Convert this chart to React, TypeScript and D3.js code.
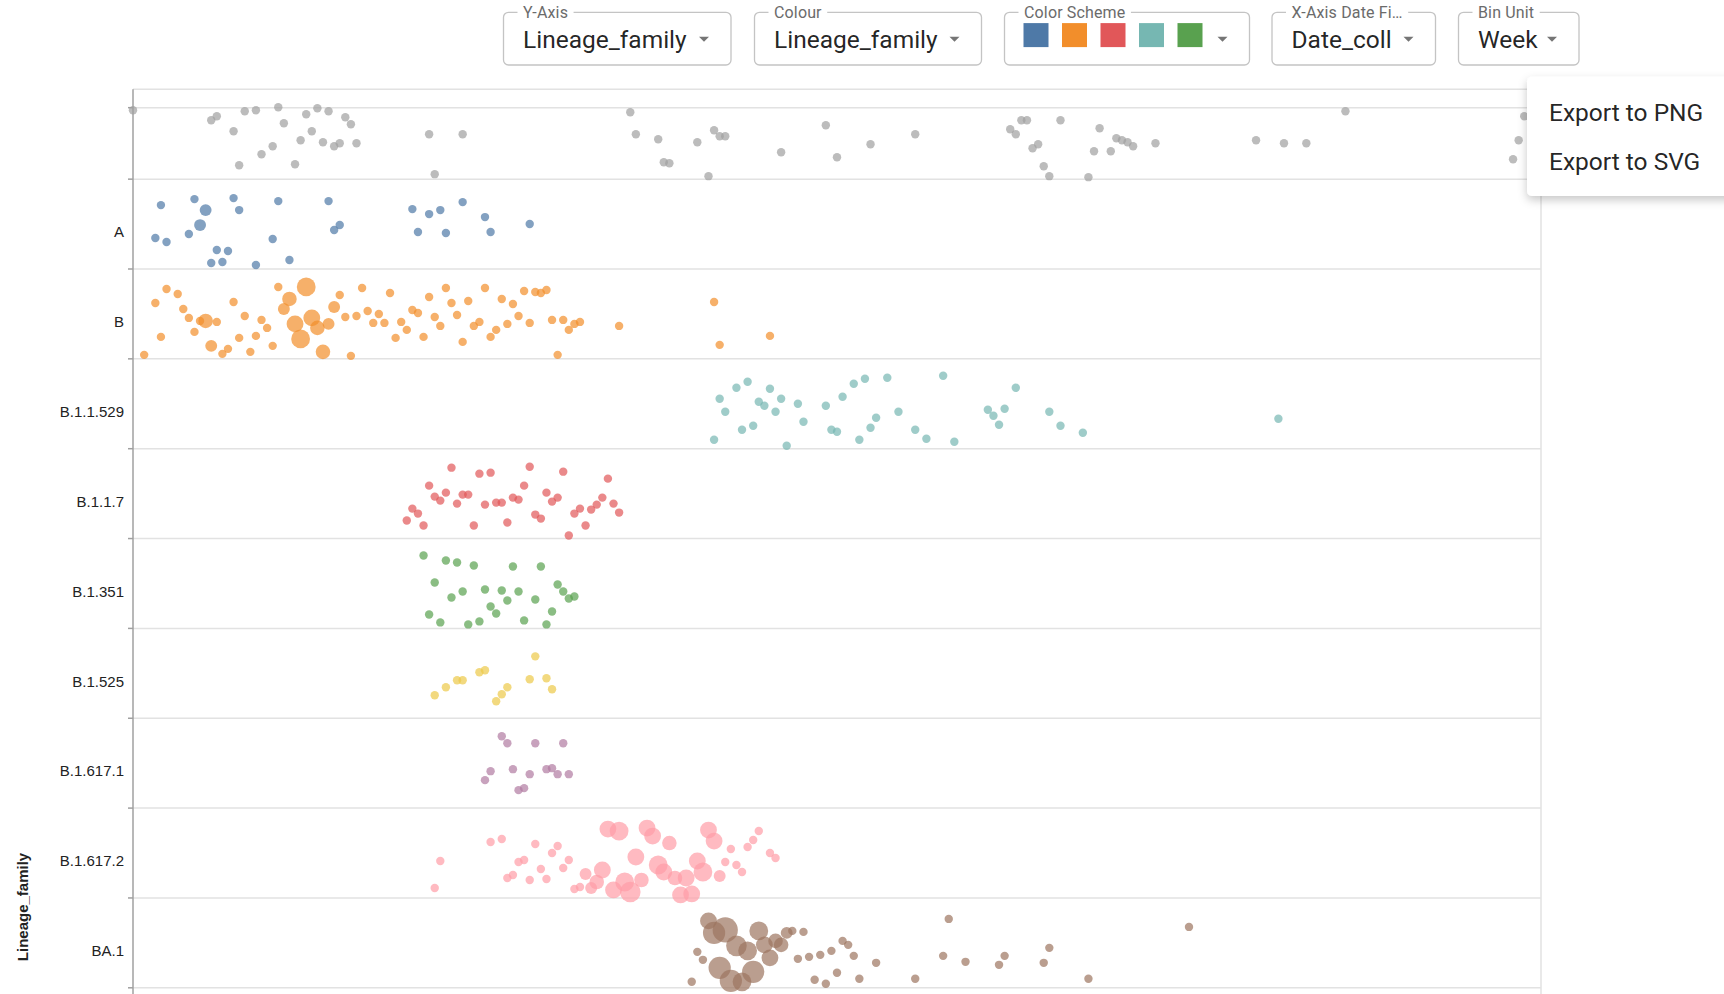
import { useEffect, useRef } from "react";
import * as d3 from "d3";

// one dot per lineage per collection week: [week index, jitter inside the lane (0-90), sequences]
type WeekPoint = [number, number, number?];

const lineages = ["", "A", "B", "B.1.1.529", "B.1.1.7", "B.1.351", "B.1.525", "B.1.617.1", "B.1.617.2", "BA.1"];
const lineageColors = ["#a0a0a0", "#4e79a7", "#f28e2b", "#76b7b2", "#e15759", "#59a14f", "#edc948", "#b07aa1", "#ff9da7", "#9c755f"];

const unassigned: WeekPoint[] = [
  [0, 21], [14, 31], [15, 27], [18, 42], [19, 76], [20, 22], [22, 21], [23, 65], [25, 57], [26, 18], [27, 34],
  [29, 75], [30, 51], [31, 25], [32, 42], [33, 19], [34, 53], [35, 22], [36, 57], [37, 54], [38, 28], [39, 35],
  [40, 54], [53, 45], [54, 85], [59, 45], [89, 23], [90, 45], [94, 50], [95, 73], [96, 74], [101, 53], [103, 87],
  [104, 41], [105, 47], [106, 47], [116, 63], [124, 36], [126, 68], [132, 55], [140, 45], [157, 40], [158, 45],
  [159, 31], [160, 31], [161, 59], [162, 55], [163, 77], [164, 87], [166, 31], [171, 88], [172, 62], [173, 39],
  [175, 62], [176, 49], [177, 51], [178, 53], [179, 57], [183, 54], [201, 51], [206, 54], [210, 54], [217, 22],
  [247, 70], [248, 51], [249, 27],
];

const lineageA: WeekPoint[] = [
  [4, 59], [5, 26], [6, 63], [10, 55], [11, 20], [12, 46, 2], [13, 31, 2], [14, 84], [15, 71], [16, 83], [17, 72],
  [18, 19], [19, 31], [22, 86], [25, 60], [26, 22], [28, 81], [35, 22], [36, 51], [37, 46], [50, 30], [51, 53],
  [53, 35], [55, 31], [56, 54], [59, 23], [63, 38], [64, 53], [71, 45],
];

const lineageB: WeekPoint[] = [
  [2, 86], [4, 34], [5, 68], [6, 20], [8, 25], [9, 40], [10, 49], [11, 63], [12, 52], [13, 52, 3], [14, 77, 2],
  [15, 53], [16, 85], [17, 80], [18, 33], [19, 69], [20, 47], [21, 83], [22, 67], [23, 51], [24, 59], [25, 77],
  [26, 18], [27, 40, 2], [28, 30, 3], [29, 55, 4], [30, 70, 5], [31, 18, 5], [32, 49, 4], [33, 59, 3], [34, 83, 3],
  [35, 55, 2], [36, 38, 2], [37, 26], [38, 48], [39, 87], [40, 47], [41, 19], [42, 42], [43, 54], [44, 45],
  [45, 54], [46, 24], [47, 69], [48, 53], [49, 61], [50, 41], [51, 44], [52, 68], [53, 28], [54, 48], [55, 57],
  [56, 19], [57, 34], [58, 46], [59, 73], [60, 32], [61, 57], [62, 53], [63, 19], [64, 68], [65, 61], [66, 30],
  [67, 55], [68, 35], [69, 47], [70, 22], [71, 54], [72, 23], [73, 24], [74, 21], [75, 51], [76, 86], [77, 51],
  [78, 61], [79, 55], [80, 53], [87, 57], [104, 33], [105, 76], [114, 67],
];

const lineageB11529: WeekPoint[] = [
  [104, 81], [105, 40], [106, 53], [108, 29], [109, 71], [110, 23], [111, 67], [112, 43], [113, 47], [114, 30],
  [115, 53], [116, 40], [117, 87], [119, 45], [120, 63], [124, 47], [125, 71], [126, 73], [127, 38], [129, 25],
  [130, 81], [131, 20], [132, 69], [133, 59], [135, 19], [137, 53], [140, 71], [142, 80], [145, 17], [147, 83],
  [153, 51], [154, 57], [155, 66], [156, 50], [158, 29], [164, 53], [166, 67], [170, 74], [205, 60],
];

const lineageB117: WeekPoint[] = [
  [49, 72], [50, 60], [51, 65], [52, 77], [53, 37], [54, 48], [55, 52], [56, 44], [57, 19], [58, 55], [59, 46],
  [60, 46], [61, 77], [62, 25], [63, 56], [64, 24], [65, 54], [66, 54], [67, 74], [68, 49], [69, 51], [70, 37],
  [71, 18], [72, 66], [73, 70], [74, 44], [75, 53], [76, 49], [77, 23], [78, 87], [79, 65], [80, 60], [81, 77],
  [82, 61], [83, 56], [84, 49], [85, 30], [86, 55], [87, 64],
];

const lineageB1351: WeekPoint[] = [
  [52, 17], [53, 76], [54, 44], [55, 84], [56, 22], [57, 59], [58, 24], [59, 53], [60, 86], [61, 27], [62, 83],
  [63, 51], [64, 68], [65, 75], [66, 52], [67, 62], [68, 28], [69, 53], [70, 82], [72, 61], [73, 28], [74, 86],
  [75, 73], [76, 46], [77, 53], [78, 60], [79, 58],
];

const lineageB1525: WeekPoint[] = [
  [54, 67], [56, 59], [58, 52], [59, 52], [62, 44], [63, 42], [65, 73], [66, 66], [67, 59], [71, 51], [72, 28],
  [74, 50], [75, 61],
];

const lineageB16171: WeekPoint[] = [
  [63, 62], [64, 53], [66, 18], [67, 25], [68, 51], [69, 72], [70, 70], [71, 56], [72, 25], [74, 51], [75, 50],
  [76, 56], [77, 25], [78, 56],
];

const lineageB16172: WeekPoint[] = [
  [54, 80], [55, 53], [64, 34], [66, 31], [67, 70], [68, 67], [69, 54], [70, 52], [71, 72], [72, 36], [73, 61],
  [74, 71], [75, 45], [76, 38], [77, 60], [78, 52], [79, 81], [80, 79], [81, 66, 2], [82, 80, 2], [83, 74, 3],
  [84, 62, 4], [85, 21, 4], [86, 82, 4], [87, 23, 5], [88, 74, 5], [89, 84, 6], [90, 49, 4], [91, 72, 3],
  [92, 20, 4], [93, 28, 4], [94, 57, 5], [95, 64, 4], [96, 35, 3], [97, 70, 3], [98, 87, 4], [99, 70, 4],
  [100, 86, 4], [101, 53, 4], [102, 64, 5], [103, 22, 4], [104, 33, 4], [105, 68, 2], [106, 54], [107, 41],
  [108, 57], [109, 64], [110, 39], [111, 32], [112, 23], [114, 45], [115, 50],
];

const lineageBA1: WeekPoint[] = [
  [100, 84], [101, 54], [102, 62], [103, 23, 4], [104, 35, 7], [105, 70, 7], [106, 32, 9], [107, 83, 7],
  [108, 48, 6], [109, 84, 5], [110, 53, 5], [111, 74, 7], [112, 33, 5], [113, 47, 4], [114, 60, 4], [115, 43, 3],
  [116, 47, 3], [117, 35, 2], [118, 33], [119, 61], [120, 34], [121, 59], [122, 82], [123, 57], [124, 86],
  [125, 53], [126, 75], [127, 43], [128, 47], [129, 58], [130, 81], [133, 65], [140, 81], [145, 58], [146, 21],
  [149, 64], [155, 67], [156, 58], [163, 65], [164, 50], [171, 81], [189, 29],
];

const lineagePoints: WeekPoint[][] = [
  unassigned, lineageA, lineageB, lineageB11529, lineageB117, lineageB1351, lineageB1525, lineageB16171,
  lineageB16172, lineageBA1,
];

const firstWeek = new Date(2019, 11, 29);
const weekSpan = 252;

const controlLabels = ["Y-Axis", "Colour", "Color Scheme", "X-Axis Date Fi…", "Bin Unit"];
const controlValues = ["Lineage_family", "Lineage_family", "", "Date_coll", "Week"];
const schemeSwatches = ["#4e79a7", "#f28e2b", "#e15759", "#76b7b2", "#59a14f"];
const exportItems = ["Export to PNG", "Export to SVG"];

export default function App() {
  const ref = useRef<SVGSVGElement | null>(null);

  useEffect(() => {
    if (!ref.current) return;

    const width = 1724;
    const height = 994;
    const plot = { left: 133, right: 1541, top: 89.3, lane: 89.85 };

    const svg = d3.select(ref.current).attr("width", width).attr("height", height);
    svg.selectAll("*").remove();

    const defs = svg.append("defs");
    const shadow = defs.append("filter").attr("id", "menu-shadow")
      .attr("x", "-20%").attr("y", "-30%").attr("width", "140%").attr("height", "170%");
    shadow.append("feDropShadow").attr("dx", 0).attr("dy", 4).attr("stdDeviation", 5)
      .attr("flood-color", "#000").attr("flood-opacity", 0.22);

    svg.append("rect").attr("width", width).attr("height", height).attr("fill", "#fff");

    /* ---------------- SCALES ---------------- */

    const x = d3.scaleTime()
      .domain([firstWeek, d3.timeWeek.offset(firstWeek, weekSpan)])
      .range([plot.left, plot.right]);

    const y = d3.scaleBand()
      .domain(lineages)
      .range([plot.top, plot.top + lineages.length * plot.lane]);

    const jitter = d3.scaleLinear().domain([0, 90]).range([0, y.step()]);
    const radius = d3.scaleSqrt().domain([0, 10]).range([0, 13.3]);

    /* ---------------- GRID + AXIS ---------------- */

    const bounds = lineages.slice(1).map(c => y(c)!).concat(y.range()[1]);
    const tickYs = [y(lineages[0])! + jitter(18.4), ...bounds];

    const grid = svg.append("g");
    grid.append("line")
      .attr("x1", plot.left).attr("x2", plot.right)
      .attr("y1", plot.top).attr("y2", plot.top)
      .attr("stroke", "#e2e2e2").attr("stroke-width", 1.5);
    grid.selectAll(".grid")
      .data(tickYs)
      .enter()
      .append("line")
      .attr("x1", plot.left).attr("x2", plot.right)
      .attr("y1", d => d).attr("y2", d => d)
      .attr("stroke", "#e2e2e2").attr("stroke-width", 1.5);
    grid.append("line")
      .attr("x1", plot.right).attr("x2", plot.right)
      .attr("y1", plot.top).attr("y2", height)
      .attr("stroke", "#e2e2e2").attr("stroke-width", 1.5);

    const axis = svg.append("g");
    axis.append("line")
      .attr("x1", plot.left).attr("x2", plot.left)
      .attr("y1", plot.top).attr("y2", height)
      .attr("stroke", "#a0a0a0").attr("stroke-width", 1.5);
    axis.selectAll(".tick")
      .data(tickYs)
      .enter()
      .append("line")
      .attr("x1", plot.left - 5).attr("x2", plot.left)
      .attr("y1", d => d).attr("y2", d => d)
      .attr("stroke", "#a0a0a0").attr("stroke-width", 1.5);
    axis.selectAll(".label")
      .data(lineages.filter(c => c !== ""))
      .enter()
      .append("text")
      .attr("x", plot.left - 9)
      .attr("y", c => y(c)! + jitter(53))
      .attr("dy", "0.35em")
      .attr("text-anchor", "end")
      .attr("font-family", "'Liberation Sans', Arial, sans-serif")
      .attr("font-size", 15)
      .attr("fill", "#222")
      .text(c => c);

    svg.append("text")
      .attr("transform", "translate(28,907) rotate(-90)")
      .attr("text-anchor", "middle")
      .attr("font-family", "'Liberation Sans', Arial, sans-serif")
      .attr("font-weight", "bold")
      .attr("font-size", 15)
      .attr("fill", "#222")
      .text("Lineage_family");

    /* ---------------- DOTS ---------------- */

    const dots = svg.append("g");
    lineages.forEach((c, i) => {
      dots.append("g")
        .selectAll("circle")
        .data(lineagePoints[i])
        .enter()
        .append("circle")
        .attr("cx", d => x(d3.timeWeek.offset(firstWeek, d[0])))
        .attr("cy", d => y(c)! + jitter(d[1]))
        .attr("r", d => radius(d[2] ?? 1))
        .attr("fill", lineageColors[i])
        .attr("fill-opacity", 0.7);
    });

    /* ---------------- CONTROLS ---------------- */

    const boxLeft = [503.5, 754.5, 1004.5, 1272, 1458.5];
    const boxWidth = [227.5, 227, 245, 163.5, 120.5];

    controlLabels.forEach((label, i) => {
      const g = svg.append("g").attr("transform", `translate(${boxLeft[i]},12.3)`);
      g.append("rect")
        .attr("width", boxWidth[i]).attr("height", 52.7).attr("rx", 5)
        .attr("fill", "#fff").attr("stroke", "#c4c4c4").attr("stroke-width", 1.3);
      const notch = g.append("rect").attr("y", -2).attr("height", 4).attr("fill", "#fff");
      const t = g.append("text")
        .attr("x", 19.5).attr("y", 5.8)
        .attr("font-family", "Roboto, sans-serif").attr("font-size", 16)
        .attr("letter-spacing", 0.15)
        .attr("fill", "#6b6b6b")
        .text(label);
      const len = (t.node() as SVGTextElement).getComputedTextLength();
      notch.attr("x", 14).attr("width", len + 11);

      if (controlValues[i]) {
        g.append("text")
          .attr("x", 19.5).attr("y", 35.8)
          .attr("font-family", "Roboto, sans-serif").attr("font-size", 24.5)
          .attr("fill", "rgba(0,0,0,0.87)")
          .text(controlValues[i]);
      } else {
        g.selectAll(".swatch")
          .data(schemeSwatches)
          .enter()
          .append("rect")
          .attr("x", (_, k) => 19 + k * 38.5).attr("y", 10.8)
          .attr("width", 25).attr("height", 24)
          .attr("fill", d => d);
      }

      const ax = boxWidth[i] - 27;
      g.append("path")
        .attr("d", `M${ax - 5},${24.5}L${ax + 5},${24.5}L${ax},${29.5}Z`)
        .attr("fill", "#757575");
    });

    /* ---------------- EXPORT MENU ---------------- */

    const menu = svg.append("g");
    menu.append("rect")
      .attr("x", 1527).attr("y", 76.7).attr("width", 220).attr("height", 119.3).attr("rx", 5)
      .attr("fill", "#fff").attr("filter", "url(#menu-shadow)");
    menu.selectAll(".item")
      .data(exportItems)
      .enter()
      .append("text")
      .attr("x", 1549)
      .attr("y", (_, k) => 120.8 + k * 49.5)
      .attr("font-family", "Roboto, sans-serif").attr("font-size", 24.5)
      .attr("fill", "rgba(0,0,0,0.87)")
      .text(d => d);
  }, []);

  return (
    <div style={{ position: "absolute", left: 0, top: 0, width: 1724, height: 994, overflow: "hidden", background: "#fff" }}>
      <svg ref={ref} style={{ display: "block" }} />
    </div>
  );
}
